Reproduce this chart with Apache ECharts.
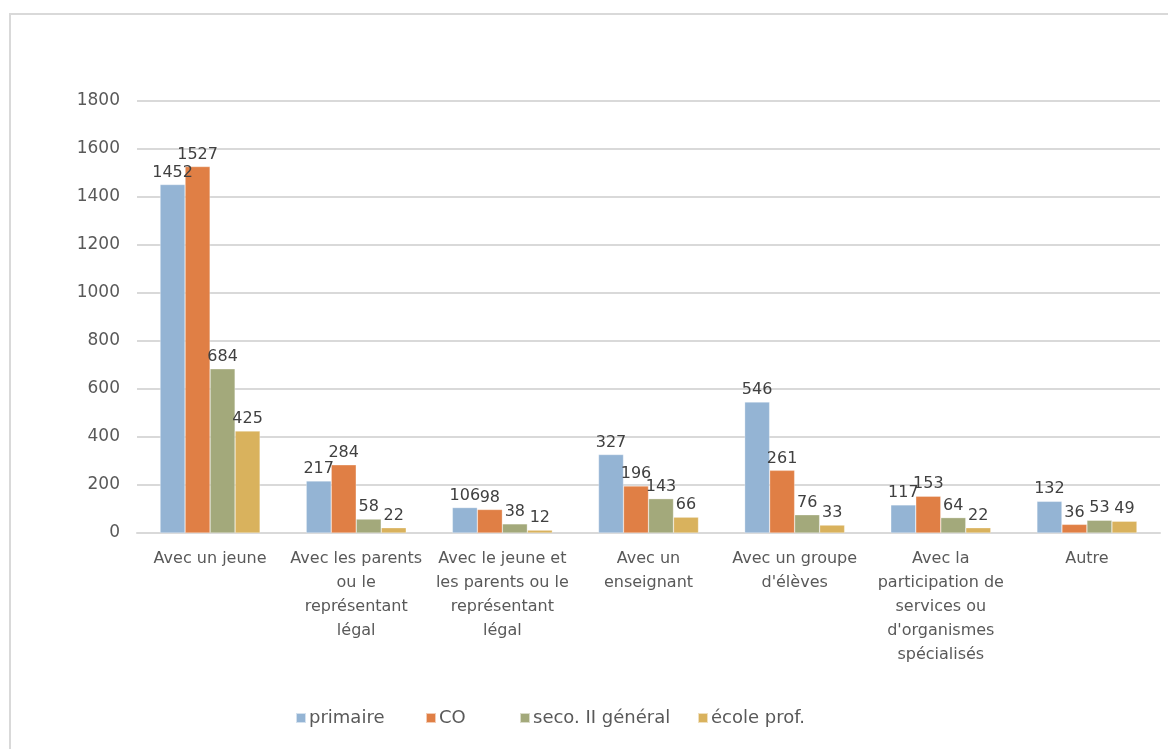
<!DOCTYPE html>
<html><head><meta charset="utf-8">
<script src="https://cdn.jsdelivr.net/npm/echarts@6/dist/echarts.min.js"></script>
<style>html,body{margin:0;padding:0;background:#fff}#c{width:1168px;height:749px}</style>
</head><body><div id="c"></div>
<script>
const categories = ["Avec un jeune","Avec les parents\nou le\nreprésentant\nlégal","Avec le jeune et\nles parents ou le\nreprésentant\nlégal","Avec un\nenseignant","Avec un groupe\nd'élèves","Avec la\nparticipation de\nservices ou\nd'organismes\nspécialisés","Autre"];
const seriesNames = ["primaire","CO","seco. II général","école prof."];
const primaire = [1452,217,106,327,546,117,132];
const co = [1527,284,98,196,261,153,36];
const seco = [684,58,38,143,76,64,53];
const ecole = [425,22,12,66,33,22,49];
const colors = ["#94B4D4","#E07F45","#A3A97B","#D9B25D"];
const FONT = "DejaVu Sans";
const chart = echarts.init(document.getElementById('c'));
const mk = (name, data, i) => ({
  name, type:'bar', data, barWidth:25, barGap:'0%',
  itemStyle:{color:colors[i], borderColor:'rgba(255,255,255,0.6)', borderWidth:0.5},
  label:{show:true, position:'top', distance:4, color:'#404040', fontFamily:FONT, fontSize:16}
});
const legendLefts = [295,425,519,697];
const legends = seriesNames.map((n,i)=>({data:[n], left:legendLefts[i], top:709, itemWidth:10, itemHeight:10, icon:'rect', padding:0,
  textStyle:{color:'#595959', fontFamily:FONT, fontSize:18, padding:[0,0,0,-2]}}));
chart.setOption({
  animation:false,
  textStyle:{fontFamily:FONT},
  graphic:[{type:'rect', shape:{x:10,y:14,width:1170,height:760}, style:{fill:'none', stroke:'#D9D9D9', lineWidth:2}, silent:true}],
  grid:{left:137, right:8, top:101, bottom:216, containLabel:false},
  legend:legends,
  xAxis:{type:'category', data:categories,
    axisLine:{lineStyle:{color:'#D9D9D9', width:2}}, axisTick:{show:false},
    axisLabel:{interval:0, color:'#595959', fontFamily:FONT, fontSize:16, lineHeight:24, margin:14}},
  yAxis:{type:'value', min:0, max:1800, interval:200,
    axisLine:{show:false}, axisTick:{show:false},
    splitLine:{lineStyle:{color:'#D9D9D9', width:2}},
    axisLabel:{color:'#595959', fontFamily:FONT, fontSize:17, margin:17, formatter:v=>String(v)}},
  series:[mk(seriesNames[0],primaire,0), mk(seriesNames[1],co,1), mk(seriesNames[2],seco,2), mk(seriesNames[3],ecole,3)]
});
</script></body></html>
